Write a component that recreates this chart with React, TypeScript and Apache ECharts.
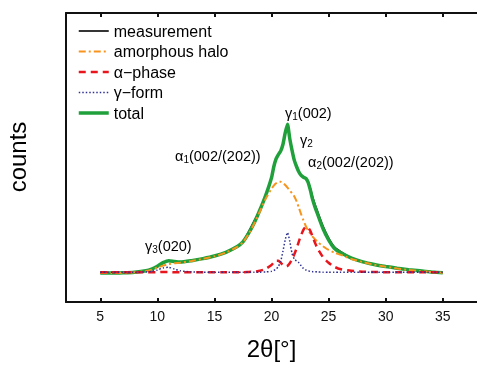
import React, { useEffect, useRef } from "react";
import * as echarts from "echarts";

const xs = [5, 6, 7, 8, 9, 9.5, 10, 10.5, 11, 11.5, 12, 13, 14, 15, 16, 17, 17.5, 18, 18.5, 19, 19.5, 20, 20.2, 20.4, 20.6, 20.8, 21, 21.2, 21.4, 21.6, 21.8, 22, 22.2, 22.4, 22.6, 22.8, 23, 23.2, 23.4, 23.6, 23.8, 24, 24.5, 25, 25.5, 26, 27, 28, 29, 30, 31, 32, 33, 34, 35];

const totalY = [10.0, 10.0, 10.1, 10.3, 10.8, 11.4, 12.4, 13.6, 14.3, 14.0, 13.8, 14.3, 15.0, 15.9, 17.2, 19.2, 20.8, 23.8, 27.5, 32.0, 37.0, 43.0, 46.8, 49.5, 51.0, 52.2, 54.5, 58.5, 61.5, 56.5, 52.5, 49.0, 46.8, 45.0, 43.8, 43.2, 42.8, 41.5, 38.8, 35.5, 33.0, 30.8, 25.5, 21.5, 18.6, 17.2, 15.2, 13.9, 13.0, 12.3, 11.7, 11.2, 10.8, 10.4, 10.1];

const measurementY = [10.0, 10.0, 10.1, 10.3, 10.8, 11.4, 12.4, 13.6, 14.3, 14.0, 13.8, 14.3, 15.0, 15.9, 17.2, 19.2, 20.8, 24.3, 28.2, 32.0, 37.0, 43.0, 46.8, 49.5, 51.0, 52.2, 54.5, 58.5, 61.0, 56.5, 52.5, 49.0, 46.8, 45.0, 43.8, 43.2, 42.8, 41.5, 39.4, 36.3, 33.9, 31.7, 26.4, 22.2, 19.1, 17.6, 15.2, 13.9, 13.0, 12.3, 11.7, 11.2, 10.8, 10.4, 10.1];

const amorphousY = [10.0, 10.0, 10.1, 10.3, 10.7, 11.2, 11.9, 12.6, 13.1, 13.4, 13.6, 14.2, 14.9, 15.8, 17.1, 19.1, 20.7, 23.6, 27.2, 31.5, 35.8, 39.2, 40.3, 41.1, 41.6, 41.6, 41.2, 40.5, 39.6, 38.6, 37.6, 36.5, 34.8, 32.6, 30.3, 28.2, 26.3, 24.8, 23.6, 22.6, 21.7, 20.9, 19.3, 18.0, 17.1, 16.4, 14.9, 13.8, 12.9, 12.2, 11.6, 11.1, 10.7, 10.4, 10.1];

const alphaY = [10.3, 10.3, 10.3, 10.3, 10.3, 10.3, 10.3, 10.4, 10.4, 10.3, 10.3, 10.3, 10.3, 10.3, 10.3, 10.3, 10.3, 10.4, 10.5, 10.8, 11.5, 12.8, 13.7, 14.3, 14.3, 13.6, 12.8, 12.3, 12.5, 13.4, 14.8, 16.5, 18.6, 21.0, 23.2, 25.0, 25.9, 25.8, 24.6, 22.6, 20.6, 18.8, 15.6, 13.6, 12.2, 11.4, 10.8, 10.5, 10.4, 10.3, 10.3, 10.3, 10.3, 10.3, 10.3];

const gammaY = [10.3, 10.3, 10.3, 10.3, 10.4, 10.6, 11.1, 11.8, 12.0, 11.4, 10.8, 10.4, 10.3, 10.3, 10.3, 10.3, 10.3, 10.3, 10.3, 10.3, 10.4, 10.6, 10.9, 11.4, 12.3, 14.0, 17.5, 21.5, 24.0, 21.0, 16.8, 14.8, 14.2, 13.6, 12.5, 11.6, 11.1, 10.8, 10.6, 10.5, 10.5, 10.4, 10.3, 10.3, 10.3, 10.3, 10.3, 10.3, 10.3, 10.3, 10.3, 10.3, 10.3, 10.3, 10.3];

const xTicks = [5, 10, 15, 20, 25, 30, 35];
const seriesNames = ["measurement", "amorphous halo", "\u03b1\u2212phase", "\u03b3\u2212form", "total"];

const FONT = "Liberation Sans, Arial, sans-serif";

const pairs = (ys: number[]) => xs.map((x, i) => [x, ys[i]]);

function annot(x: number, y: number, g: string, sub: string, rest: string) {
  return {
    type: "text",
    x,
    y,
    style: {
      text: `{m|${g}}{s|${sub}}{m|${rest}}`,
      verticalAlign: "middle",
      align: "left",
      rich: {
        m: { fontSize: 14.5, lineHeight: 16, fontFamily: FONT, fill: "#000", color: "#000" },
        s: { fontSize: 10, lineHeight: 7, verticalAlign: "bottom", fontFamily: FONT, fill: "#000", color: "#000" },
      },
    },
  };
}

export default function App() {
  const ref = useRef<HTMLDivElement>(null);
  useEffect(() => {
    if (!ref.current) return;
    const chart = echarts.init(ref.current, undefined, { renderer: "svg" });
    const axisLine = { show: true, lineStyle: { color: "#111", width: 2 } };
    const lineSeries = (name: string, ys: number[], color: string, width: number, type: any, z: number) => ({
      name,
      type: "line",
      data: pairs(ys),
      showSymbol: false,
      symbol: "none",
      smooth: 0.2,
      z,
      lineStyle: { color, width, type },
      itemStyle: { color },
    });
    chart.setOption({
      animation: false,
      grid: { left: 66, top: 13, right: -5, bottom: 66 },
      legend: {
        orient: "vertical",
        left: 77,
        top: 23,
        padding: 0,
        itemWidth: 30,
        itemHeight: 14,
        itemGap: 4.5,
        itemStyle: { opacity: 0, borderWidth: 0 },
        lineStyle: { width: "inherit" },
        textStyle: { fontSize: 16, fontFamily: FONT, color: "#000", lineHeight: 14, padding: [0, 0, 0, 0] },
        data: seriesNames,
      },
      xAxis: [
        {
          type: "value",
          min: 2,
          max: 38,
          position: "bottom",
          axisLine,
          splitLine: { show: false },
          axisTick: { show: true, inside: true, length: 4, customValues: xTicks, lineStyle: { color: "#111", width: 2 } },
          axisLabel: { show: true, customValues: xTicks, fontSize: 14, fontFamily: FONT, color: "#111", margin: 7 },
          name: "2\u03b8[\u00b0]",
          nameLocation: "middle",
          nameGap: 34,
          nameTextStyle: { fontSize: 24, fontFamily: FONT, color: "#000" },
        },
        {
          type: "value",
          min: 2,
          max: 38,
          position: "top",
          axisLine,
          splitLine: { show: false },
          axisTick: { show: true, inside: true, length: 4, customValues: xTicks, lineStyle: { color: "#111", width: 2 } },
          axisLabel: { show: false },
        },
      ],
      yAxis: {
        type: "value",
        min: 0,
        max: 100,
        axisLine,
        axisTick: { show: false },
        axisLabel: { show: false },
        splitLine: { show: false },
      },
      graphic: [
        {
          type: "text",
          x: 17,
          y: 157,
          rotation: Math.PI / 2,
          style: { text: "counts", fontSize: 24, fontFamily: FONT, fill: "#000", align: "center", verticalAlign: "middle" },
        },
        annot(285, 113, "\u03b3", "1", "(002)"),
        annot(300, 140, "\u03b3", "2", ""),
        annot(175, 156, "\u03b1", "1", "(002/(202))"),
        annot(308, 162, "\u03b1", "2", "(002/(202))"),
        annot(145, 246, "\u03b3", "3", "(020)"),
      ],
      series: [
        lineSeries(seriesNames[0], measurementY, "#111111", 1.7, "solid", 2),
        lineSeries(seriesNames[1], amorphousY, "#F7941D", 2, [7, 3, 2, 3], 4),
        lineSeries(seriesNames[2], alphaY, "#E8151C", 2.5, [7, 5], 4),
        lineSeries(seriesNames[3], gammaY, "#2E3192", 1.5, [1.5, 2], 4),
        lineSeries(seriesNames[4], totalY, "#1FA03A", 3.5, "solid", 3),
      ],
    });
    return () => chart.dispose();
  }, []);
  return <div ref={ref} style={{ position: "fixed", left: 0, top: 0, width: 477, height: 368 }} />;
}
